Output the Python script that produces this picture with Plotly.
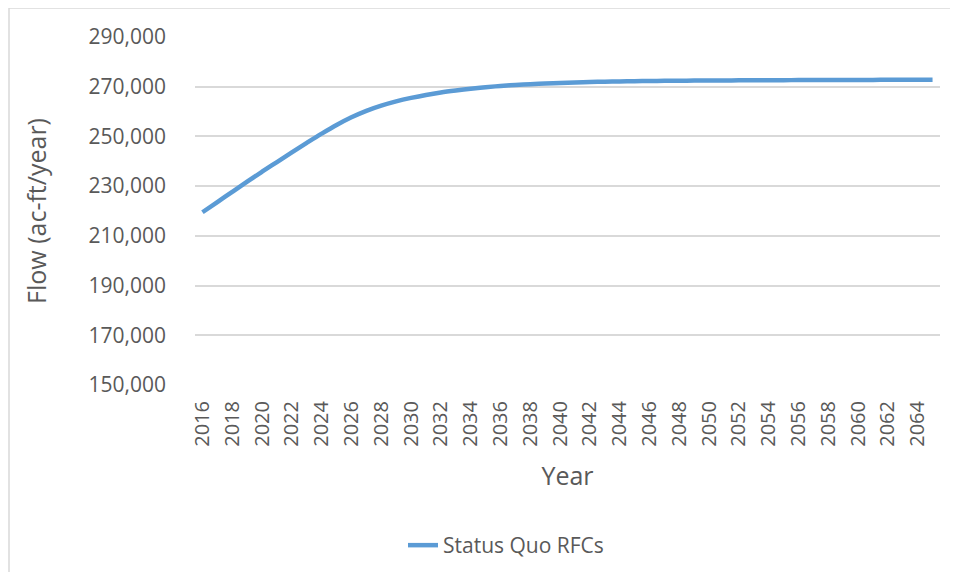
import plotly.graph_objects as go

years = list(range(2016, 2066))
flow = [
    219500, 223600, 227700, 231800, 235800, 239700, 243600, 247400, 251100, 254600,
    257700, 260300, 262400, 264100, 265500, 266700, 267700, 268500, 269200, 269800,
    270300, 270700, 271000, 271300, 271500, 271700, 271900, 272000, 272100, 272200,
    272300, 272350, 272400, 272450, 272500, 272530, 272560, 272590, 272620, 272640,
    272660, 272680, 272700, 272720, 272740, 272750, 272760, 272770, 272780, 272800,
]
series_name = "Status Quo RFCs"
y_ticks = list(range(150000, 290001, 20000))

# page body adds an 8px margin, so the figure is shrunk and shifted to fit
OFF = 8
W, H = 958 - 2 * OFF, 580 - 2 * OFF
L, T = 195 - OFF, 37 - OFF
R = W - (940 - OFF)
B = H - (385 - OFF)
pw, ph = W - L - R, H - T - B


def px(x):
    return (x - OFF - L) / pw


def py(y):
    return (H - B - (y - OFF)) / ph


fig = go.Figure()
fig.add_trace(go.Scatter(
    x=years, y=flow, name=series_name, mode="lines",
    line=dict(color="#5b9bd5", width=4.5, shape="spline"),
))

txt = "#595959"
fig.update_layout(
    width=W, height=H,
    margin=dict(l=L, r=R, t=T, b=B, autoexpand=False),
    paper_bgcolor="white", plot_bgcolor="white",
    font=dict(family="Open Sans", size=21, color=txt),
    showlegend=True,
    legend=dict(orientation="h", x=px(506), xanchor="center", y=py(525), yanchor="top",
                font=dict(family="Open Sans", size=21, color=txt)),
    xaxis=dict(
        range=[2015.5, 2065.5], tickmode="linear", tick0=2016, dtick=2,
        tickangle=-90, showgrid=False, zeroline=False, ticklabelstandoff=11,
        tickfont=dict(family="Open Sans", size=20, color=txt),
        title=dict(text="Year", standoff=21),
    ),
    yaxis=dict(
        range=[150000, 290000], tickvals=y_ticks, tickformat=",d",
        gridcolor="#d9d9d9", gridwidth=1.5, zeroline=False, ticklabelstandoff=28,
        title=dict(text="Flow (ac-ft/year)", standoff=34),
    ),
    shapes=[
        dict(type="rect", xref="paper", yref="paper",
             x0=px(9), x1=px(990), y0=py(620), y1=py(8),
             line=dict(color="#d9d9d9", width=1.5), fillcolor="rgba(0,0,0,0)", layer="below"),
    ],
)

fig.write_html("out.html")
